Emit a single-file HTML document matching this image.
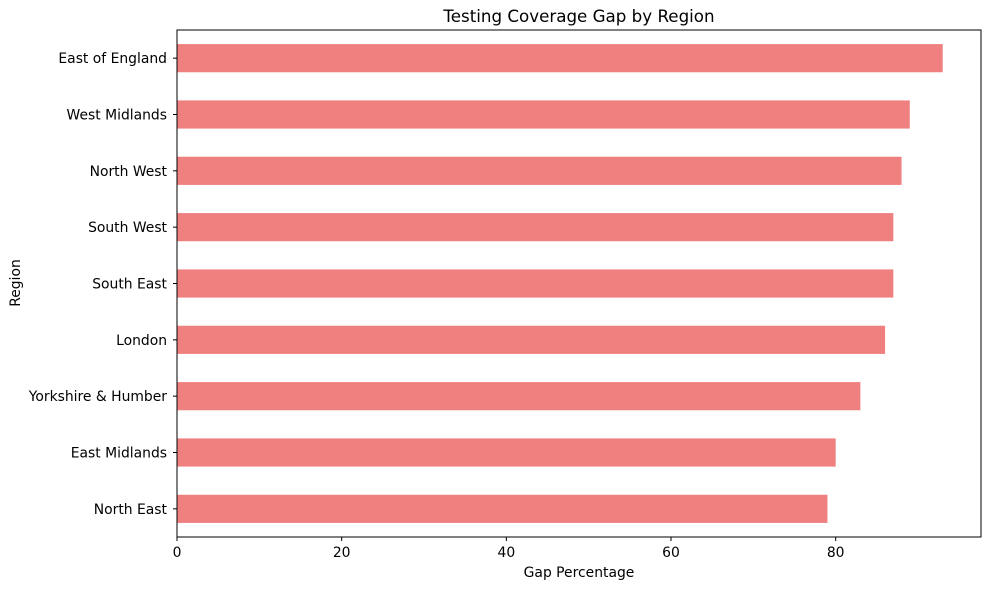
<!DOCTYPE html>
<html><head><meta charset="utf-8"><style>
body{margin:0;background:#fff;font-family:"Liberation Sans","DejaVu Sans",sans-serif;}
text{font-family:"DejaVu Sans","Liberation Sans",sans-serif;}
</style></head><body>
<svg id="chart" width="989" height="590" xmlns="http://www.w3.org/2000/svg">
<rect width="989" height="590" fill="#fff"/>
<text x="579" y="22" font-size="16.7" text-anchor="middle">Testing Coverage Gap by Region</text>
<text x="579" y="577" font-size="13.9" text-anchor="middle">Gap Percentage</text>
<text x="20" y="283" font-size="13.9" text-anchor="middle" transform="rotate(-90 20 283)">Region</text>
<g id="bars"></g><g id="axes"></g>
</svg>
<script>
const categories=["East of England","West Midlands","North West","South West","South East","London","Yorkshire & Humber","East Midlands","North East"];
const values=[93,89,88,87,87,86,83,80,79];
const xTicks=[0,20,40,60,80];
const L=177,R=981,T=30,B=537,xMax=97.65;
const x=v=>L+v/xMax*(R-L);
const step=(B-T)/categories.length;
const y=i=>T+step*(i+0.5);
const ns="http://www.w3.org/2000/svg";
const bars=document.getElementById('bars'),axes=document.getElementById('axes');
function mk(tag,attrs,parent){const e=document.createElementNS(ns,tag);for(const k in attrs)e.setAttribute(k,attrs[k]);parent.appendChild(e);return e;}
categories.forEach((c,i)=>{
  const r=mk('rect',{x:x(0),y:y(i)-step*0.25,width:x(values[i])-x(0),height:step*0.5,fill:'#f08080'},bars);
  
  
  mk('line',{x1:L-4,x2:L,y1:y(i),y2:y(i),stroke:'#000','stroke-width':1},axes);
  const t=mk('text',{x:L-10,y:y(i)+5,'font-size':13.9,'text-anchor':'end'},axes);
  t.textContent=c;
  
  
});
xTicks.forEach(v=>{
  mk('line',{x1:x(v),x2:x(v),y1:B,y2:B+4,stroke:'#000','stroke-width':1},axes);
  const t=mk('text',{x:x(v),y:B+20,'font-size':13.9,'text-anchor':'middle'},axes);
  t.textContent=v;
  
  
});
const f=mk('rect',{x:L,y:T,width:R-L,height:B-T,fill:'none',stroke:'#000','stroke-width':1},axes);


</script>
</body></html>
